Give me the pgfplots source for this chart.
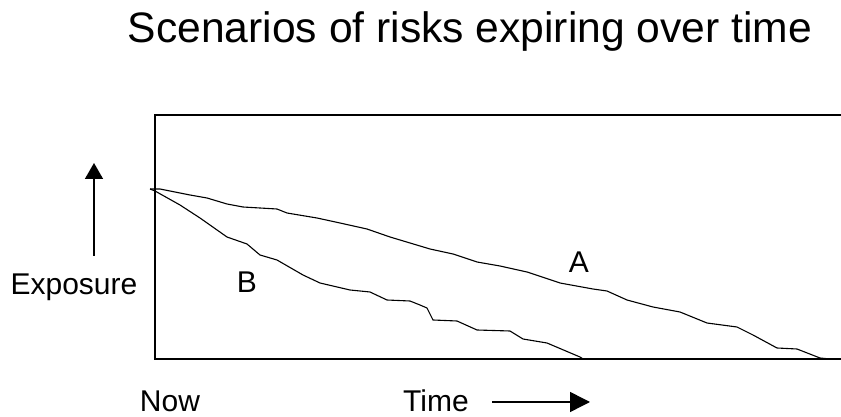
\documentclass[border=0pt]{standalone}
\usepackage{pgfplots}
\pgfplotsset{compat=1.18}
\usepackage{fontspec}
\setmainfont{Liberation Sans}
\usetikzlibrary{arrows.meta}
\begin{document}
\begin{tikzpicture}[x=1pt,y=1pt]
\useasboundingbox (0,0) rectangle (841,417);
\begin{axis}[
  at={(155pt,58pt)}, anchor=south west,
  scale only axis, width=690pt, height=244pt,
  xmin=155, xmax=845, ymin=58, ymax=302,
  xtick=\empty, ytick=\empty,
  axis line style={line width=1.8pt},
  clip=false,
]
\addplot[black, line width=1.1pt, mark=none] coordinates {(150,228)(160,228)(190,222)(207,219)(227,213)(243,210)(277,208)(287,204)(317,199)(340,194)(367,188)(390,180)(420,171)(430,168)(453,163)(477,155)(500,151)(527,145)(560,134)(593,128)(607,126)(627,117)(653,110)(680,105)(707,94)(737,90)(753,82)(777,69)(797,68)(820,59)(830,58)};
\addplot[black, line width=1.1pt, mark=none] coordinates {(150,228)(155,226)(180,212)(200,199)(227,180)(247,173)(260,162)(277,157)(303,142)(320,134)(350,127)(370,125)(387,117)(410,116)(420,112)(427,109)(433,97)(457,96)(477,87)(510,86)(523,78)(547,74)(580,60)(583,58)};
\node[anchor=base, font=\fontsize{42.6}{50}\selectfont] at (axis cs:470,374) {Scenarios of risks expiring over time};
\node[anchor=base, font=\fontsize{30}{36}\selectfont] at (axis cs:74,122) {Exposure};
\node[anchor=base, font=\fontsize{30}{36}\selectfont] at (axis cs:170,5) {Now};
\node[anchor=base, font=\fontsize{30}{36}\selectfont] at (axis cs:436,5) {Time};
\node[anchor=base, font=\fontsize{30}{36}\selectfont] at (axis cs:247,124) {B};
\node[anchor=base, font=\fontsize{30}{36}\selectfont] at (axis cs:579,144) {A};
\draw[line width=1.5pt, -{Triangle[length=20pt,width=20pt]}] (axis cs:492,15) -- (axis cs:590,15);
\draw[line width=1.5pt, -{Triangle[length=16pt,width=18pt]}] (axis cs:94,161) -- (axis cs:94,254);
\end{axis}
\end{tikzpicture}
\end{document}
